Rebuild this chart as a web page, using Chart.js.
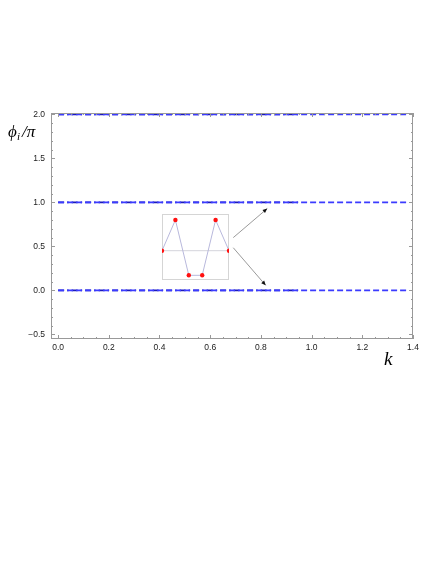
<!DOCTYPE html>
<html>
<head>
<meta charset="utf-8">
<script src="https://cdn.jsdelivr.net/npm/chart.js@4.4.1/dist/chart.umd.min.js"></script>
<style>
  body { margin: 0; background: #fff; }
  #wrap { position: relative; width: 436px; height: 564px; }
  #main { position: absolute; left: 0; top: 0; }
  #inset { position: absolute; left: 162px; top: 214px; }
</style>
</head>
<body>
<div id="wrap">
  <canvas id="main" width="436" height="564"></canvas>
  <canvas id="inset" width="67" height="66"></canvas>
</div>
<script>
// phase levels (phi_i / pi) and k range of the lines
let levels = [0, 1, 2]
let kStart = 0
let kDashDotEnd = 0.95
let kEnd = 1.375

// axis ticks
let xTicks = [0, 0.2, 0.4, 0.6, 0.8, 1.0, 1.2, 1.4]
let yTicks = [-0.5, 0, 0.5, 1.0, 1.5, 2.0]
let xMinor = [0.05, 0.1, 0.15, 0.25, 0.3, 0.35, 0.45, 0.5, 0.55, 0.65, 0.7, 0.75, 0.85, 0.9, 0.95, 1.05, 1.1, 1.15, 1.25, 1.3, 1.35]
let yMinor = [-0.4, -0.3, -0.2, -0.1, 0.1, 0.2, 0.3, 0.4, 0.6, 0.7, 0.8, 0.9, 1.1, 1.2, 1.3, 1.4, 1.6, 1.7, 1.8, 1.9]

// arrows from the inset to the lines: [k0, y0, k1, y1]
let arrows = [
    [0.691, 0.60, 0.825, 0.93],
    [0.691, 0.485, 0.819, 0.057]
]

// inset values
let insetX = [0, 1, 2, 3, 4, 5]
let insetY = [0.444, 0.91, 0.071, 0.071, 0.91, 0.444]
let insetBase = 0.444

let datasets = []
levels.forEach(function (lv) {
    datasets.push({
        data: [{ x: kStart, y: lv }, { x: kEnd, y: lv }],
        borderColor: '#3b3bff',
        borderWidth: 1.7,
        borderDash: [6, 3],
        pointRadius: 0
    })
    datasets.push({
        data: [{ x: kStart, y: lv }, { x: kDashDotEnd, y: lv }],
        borderColor: '#1a1ab8',
        borderWidth: 1.7,
        borderDash: [6, 3, 1.5, 3],
        pointRadius: 0
    })
})
arrows.forEach(function (a) {
    datasets.push({
        data: [{ x: a[0], y: a[1] }, { x: a[2], y: a[3] }],
        borderColor: '#555',
        borderWidth: 0.6,
        pointRadius: 0,
        isArrow: true
    })
})

const frame = {
    id: 'frame',
    afterDatasetsDraw(chart) {
        let ctx = chart.ctx
        let a = chart.chartArea
        let xs = chart.scales.x
        let ys = chart.scales.y
        ctx.save()
        ctx.strokeStyle = '#999'
        ctx.lineWidth = 1
        ctx.strokeRect(a.left + 0.5, a.top + 0.5, a.right - a.left - 1, a.bottom - a.top - 1)
        ctx.beginPath()
        function xt(v, len) {
            let p = Math.round(xs.getPixelForValue(v)) + 0.5
            ctx.moveTo(p, a.bottom); ctx.lineTo(p, a.bottom - len)
            ctx.moveTo(p, a.top); ctx.lineTo(p, a.top + len)
        }
        function yt(v, len) {
            let p = Math.round(ys.getPixelForValue(v)) + 0.5
            ctx.moveTo(a.left, p); ctx.lineTo(a.left + len, p)
            ctx.moveTo(a.right, p); ctx.lineTo(a.right - len, p)
        }
        xTicks.forEach(v => xt(v, 4))
        xMinor.forEach(v => xt(v, 2))
        yTicks.forEach(v => yt(v, 4))
        yMinor.forEach(v => yt(v, 2))
        ctx.stroke()

        // arrow heads
        ctx.fillStyle = '#111'
        chart.data.datasets.forEach(function (ds) {
            if (!ds.isArrow) return
            let p0 = ds.data[0], p1 = ds.data[1]
            let x0 = xs.getPixelForValue(p0.x), y0 = ys.getPixelForValue(p0.y)
            let x1 = xs.getPixelForValue(p1.x), y1 = ys.getPixelForValue(p1.y)
            let ang = Math.atan2(y1 - y0, x1 - x0)
            ctx.beginPath()
            ctx.moveTo(x1, y1)
            ctx.lineTo(x1 - 5 * Math.cos(ang - 0.4), y1 - 5 * Math.sin(ang - 0.4))
            ctx.lineTo(x1 - 5 * Math.cos(ang + 0.4), y1 - 5 * Math.sin(ang + 0.4))
            ctx.closePath()
            ctx.fill()
        })

        // axis labels
        ctx.fillStyle = '#000'
        ctx.textBaseline = 'alphabetic'
        ctx.font = 'italic 17px "Liberation Serif"'
        ctx.fillText('ϕ', 8, 137)
        ctx.font = 'italic 11px "Liberation Serif"'
        ctx.fillText('i', 17, 140)
        ctx.font = 'italic 17px "Liberation Serif"'
        ctx.fillText('/π', 22, 137)
        ctx.font = 'italic 19px "Liberation Serif"'
        ctx.fillText('k', 384, 365)
        ctx.restore()
    }
}

new Chart(document.getElementById('main'), {
    type: 'line',
    data: { datasets: datasets },
    options: {
        responsive: false,
        animation: false,
        layout: { autoPadding: false, padding: { top: 113, left: 0, right: 23, bottom: 205 } },
        plugins: { legend: { display: false }, tooltip: { enabled: false } },
        scales: {
            x: {
                type: 'linear',
                min: -0.028,
                max: 1.4,
                grid: { display: false, drawTicks: false },
                border: { display: false },
                afterFit: function (s) { s.height = 20 },
                afterBuildTicks: function (s) { s.ticks = xTicks.map(v => ({ value: v })) },
                ticks: {
                    color: '#222',
                    font: { family: 'Liberation Sans', size: 8.5 },
                    padding: 4,
                    maxRotation: 0,
                    callback: v => v.toFixed(1)
                }
            },
            y: {
                type: 'linear',
                min: -0.553,
                max: 2.017,
                grid: { display: false, drawTicks: false },
                border: { display: false },
                afterFit: function (s) { s.width = 51 },
                afterBuildTicks: function (s) { s.ticks = yTicks.map(v => ({ value: v })) },
                ticks: {
                    color: '#222',
                    font: { family: 'Liberation Sans', size: 8.5 },
                    padding: 6,
                    callback: v => v.toFixed(1).replace('-', '\u2212')
                }
            }
        }
    },
    plugins: [frame]
})

const insetFrame = {
    id: 'insetFrame',
    beforeDatasetsDraw(chart) {
        let ctx = chart.ctx
        let a = chart.chartArea
        ctx.save()
        ctx.strokeStyle = '#aaa'
        ctx.lineWidth = 1
        ctx.setLineDash([1, 1])
        ctx.strokeRect(a.left + 0.5, a.top + 0.5, a.right - a.left - 1, a.bottom - a.top - 1)
        ctx.restore()
    }
}

new Chart(document.getElementById('inset'), {
    type: 'line',
    data: {
        labels: insetX,
        datasets: [{
            data: insetX.map((x, i) => ({ x: x, y: insetY[i] })),
            borderColor: '#b8b8dc',
            borderWidth: 1,
            pointRadius: 2.2,
            pointBackgroundColor: '#ff1010',
            pointBorderWidth: 0,
            clip: 0
        }, {
            data: [{ x: insetX[0], y: insetBase }, { x: insetX[insetX.length - 1], y: insetBase }],
            borderColor: '#d4d4dc',
            borderWidth: 1,
            pointRadius: 0
        }]
    },
    options: {
        responsive: false,
        animation: false,
        layout: { autoPadding: false, padding: 0 },
        plugins: { legend: { display: false }, tooltip: { enabled: false } },
        scales: {
            x: { type: 'linear', min: 0, max: 5, display: false },
            y: { min: 0, max: 1, display: false }
        }
    },
    plugins: [insetFrame]
})
</script>
</body>
</html>
